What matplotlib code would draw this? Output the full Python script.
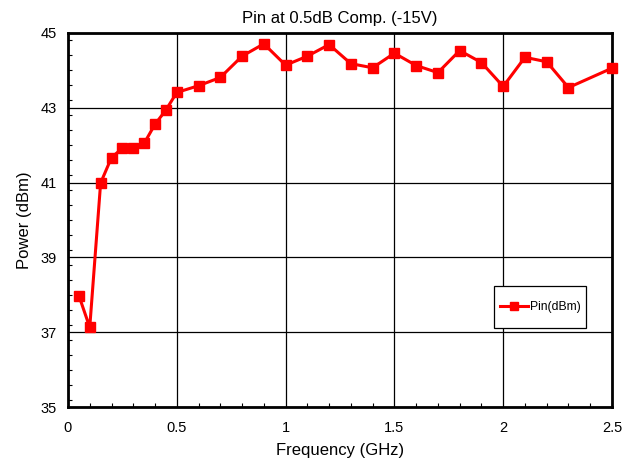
import matplotlib
matplotlib.use("Agg")
import matplotlib.pyplot as plt
from matplotlib.ticker import MultipleLocator
from matplotlib.patches import Rectangle

plt.rcParams['font.family'] = ['Liberation Sans', 'DejaVu Sans']

freq = [0.05, 0.10, 0.15, 0.20, 0.25, 0.30, 0.35, 0.40, 0.45, 0.50, 0.60, 0.70, 0.80, 0.90,
        1.00, 1.10, 1.20, 1.30, 1.40, 1.50, 1.60, 1.70, 1.80, 1.90, 2.00, 2.10, 2.20, 2.30, 2.50]
pin = [37.98, 37.13, 40.99, 41.67, 41.92, 41.92, 42.05, 42.56, 42.94, 43.41, 43.59, 43.81, 44.38, 44.71,
       44.14, 44.38, 44.69, 44.18, 44.07, 44.46, 44.13, 43.94, 44.53, 44.21, 43.57, 44.35, 44.23, 43.54, 44.06]

fig = plt.figure(figsize=(6.33, 4.62), dpi=100)
ax = fig.add_axes([0.1074, 0.119, 0.8594, 0.8096])

ax.plot(freq, pin, color='#ff0000', lw=2.2, marker='s', markersize=6.5,
        markeredgecolor='#ff0000', label='Pin(dBm)', zorder=3, clip_on=False)

ax.set_xlim(0, 2.5)
ax.set_ylim(35, 45)
ax.xaxis.set_minor_locator(MultipleLocator(0.1))
ax.yaxis.set_minor_locator(MultipleLocator(0.4))
ax.set_yticks([35, 37, 39, 41, 43, 45])
ax.set_xticks([0, 0.5, 1, 1.5, 2, 2.5])
ax.set_xticklabels(['0', '0.5', '1', '1.5', '2', '2.5'])
ax.grid(True, which='major', color='black', lw=0.9)
ax.tick_params(which='both', direction='in', top=False, right=False, labelsize=10.5)
ax.tick_params(which='major', length=0)
ax.tick_params(axis='x', which='major', pad=10)
ax.tick_params(axis='y', which='major', pad=8)
ax.tick_params(which='minor', length=3, width=0.8)
for s in ax.spines.values():
    s.set_linewidth(2)
    s.set_color('black')

ax.set_xlabel('Frequency (GHz)', fontsize=12, labelpad=6)
ax.set_ylabel('Power (dBm)', fontsize=12, labelpad=6)
ax.set_title('Pin at 0.5dB Comp. (-15V)', fontsize=12, pad=7)

# legend frame (asymmetric padding as in the original)
ax.add_patch(Rectangle((0.783, 0.211), 0.169, 0.1125, transform=ax.transAxes,
                       facecolor='white', edgecolor='black', lw=0.9, zorder=4))
leg = ax.legend(loc='center left', bbox_to_anchor=(0.794, 0.267), fontsize=8.7, frameon=False,
                handlelength=2.3, handletextpad=0.15, borderpad=0, borderaxespad=0,
                markerscale=0.8)
leg.set_zorder(5)

fig.savefig('out.png', dpi=100)
